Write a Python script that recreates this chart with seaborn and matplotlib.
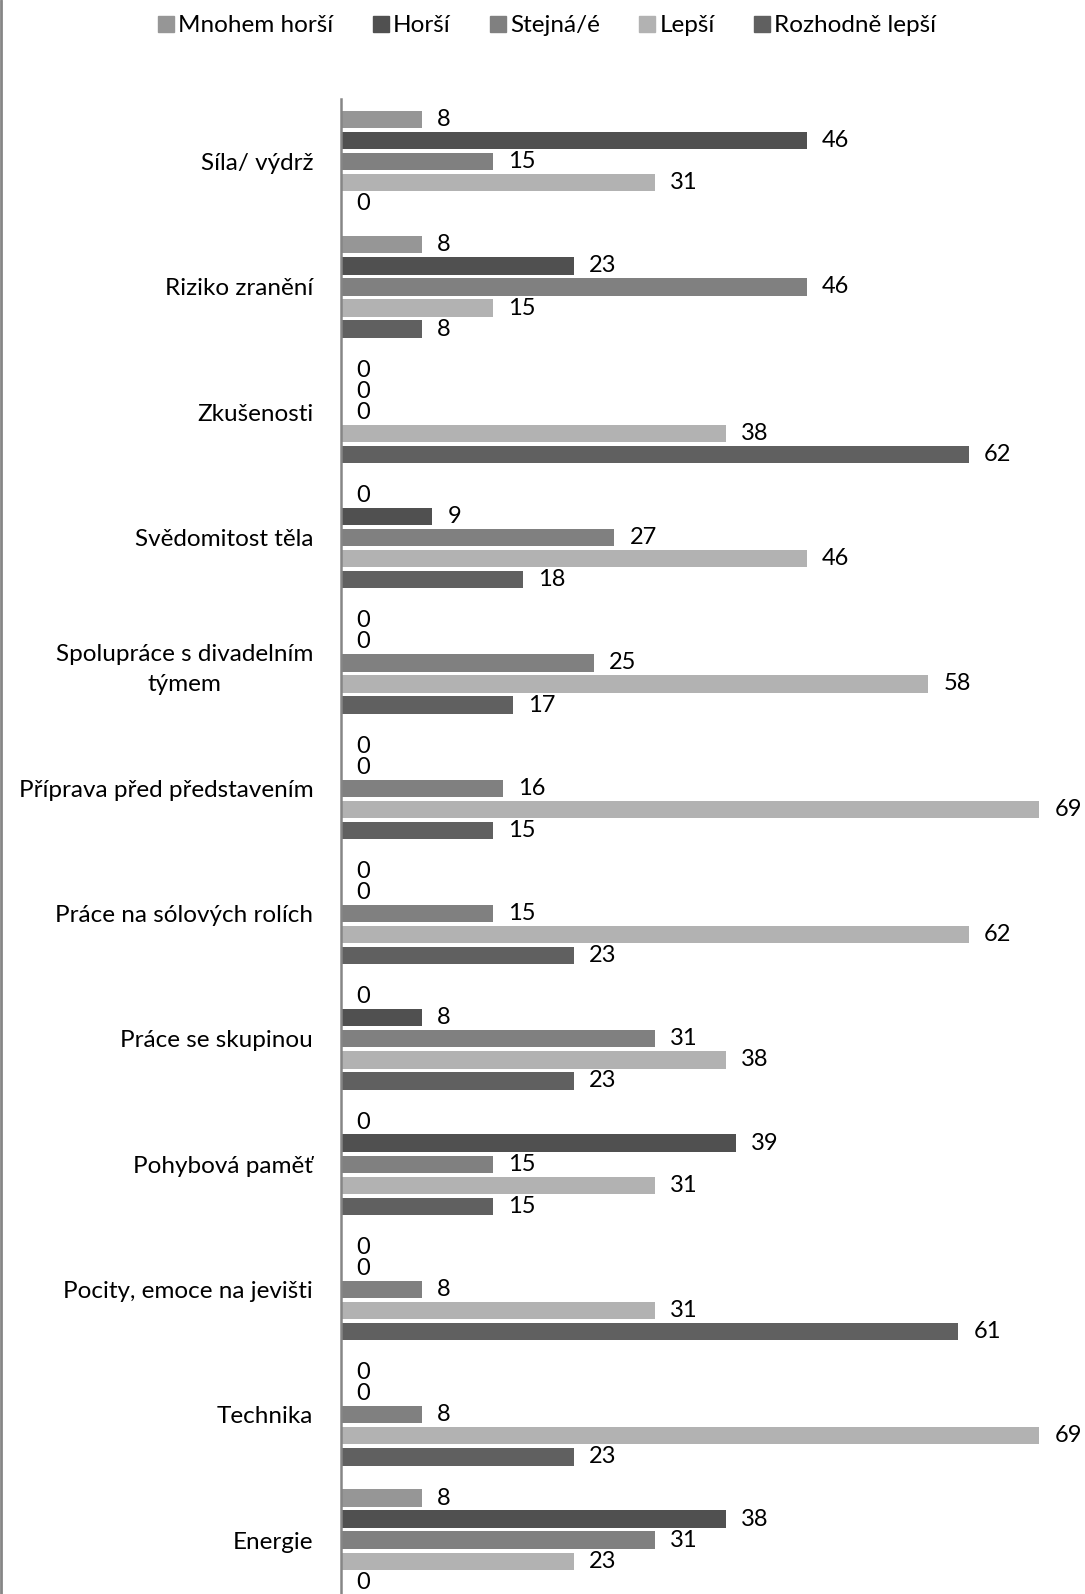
import matplotlib
matplotlib.use("Agg")
import matplotlib.pyplot as plt
import seaborn as sns
import pandas as pd
from matplotlib.lines import Line2D

categories = ["Síla/ výdrž", "Riziko zranění", "Zkušenosti", "Svědomitost těla",
              "Spolupráce s divadelním\ntýmem", "Příprava před představením",
              "Práce na sólových rolích", "Práce se skupinou", "Pohybová paměť",
              "Pocity, emoce na jevišti", "Technika", "Energie"]
series = ["Mnohem horší", "Horší", "Stejná/é", "Lepší", "Rozhodně lepší"]
mnohem_horsi = [8, 8, 0, 0, 0, 0, 0, 0, 0, 0, 0, 8]
horsi = [46, 23, 0, 9, 0, 0, 0, 8, 39, 0, 0, 38]
stejna = [15, 46, 0, 27, 25, 16, 15, 31, 15, 8, 8, 31]
lepsi = [31, 15, 38, 46, 58, 69, 62, 38, 31, 31, 69, 23]
rozhodne_lepsi = [0, 8, 62, 18, 17, 15, 23, 23, 15, 61, 23, 0]
colors = ["#969696", "#505050", "#808080", "#b2b2b2", "#606060"]

values = [mnohem_horsi, horsi, stejna, lepsi, rozhodne_lepsi]
rows = []
for s, vals in zip(series, values):
    for c, v in zip(categories, vals):
        rows.append({"cat": c, "series": s, "val": v})
df = pd.DataFrame(rows)

sns.set_theme(style="white")
plt.rcParams['font.family'] = ['Lato', 'DejaVu Sans']

W, H = 1085, 1594
fig = plt.figure(figsize=(W / 100, H / 100), dpi=100)
ax = fig.add_axes([341 / W, 0.0, 1 - 341 / W, 1 - 99 / H])

sns.barplot(data=df, y="cat", x="val", hue="series", order=categories,
            hue_order=series, palette=colors, orient="h", width=0.84,
            gap=0.18, linewidth=0, ax=ax, legend=False)

for cont in ax.containers:
    ax.bar_label(cont, padding=11, fontsize=17, color="black")

ax.set_xlim(0, 73.5)
ax.set_ylim(11.43, -0.5)
ax.set_xlabel("")
ax.set_ylabel("")
ax.set_xticks([])
for side in ["top", "right", "bottom"]:
    ax.spines[side].set_visible(False)
ax.spines["left"].set_color("#868686")
ax.spines["left"].set_linewidth(1.8)
ax.tick_params(axis="y", length=0, pad=20, labelsize=17.5, labelcolor="black")
for lab in ax.get_yticklabels():
    lab.set_multialignment("center")
    lab.set_linespacing(1.55)

handles = [Line2D([], [], marker="s", linestyle="", markersize=12,
                  markerfacecolor=c, markeredgecolor=c) for c in colors]
fig.legend(handles, series, loc="center", bbox_to_anchor=(0.503, 0.984),
           ncol=5, frameon=False, fontsize=17.5, handletextpad=0.05,
           columnspacing=1.5, handlelength=0.9, labelcolor="black")

fig.add_artist(Line2D([0.001, 0.001], [0, 1], transform=fig.transFigure,
                      color="#868686", linewidth=2))

fig.savefig("out.png", dpi=100)
